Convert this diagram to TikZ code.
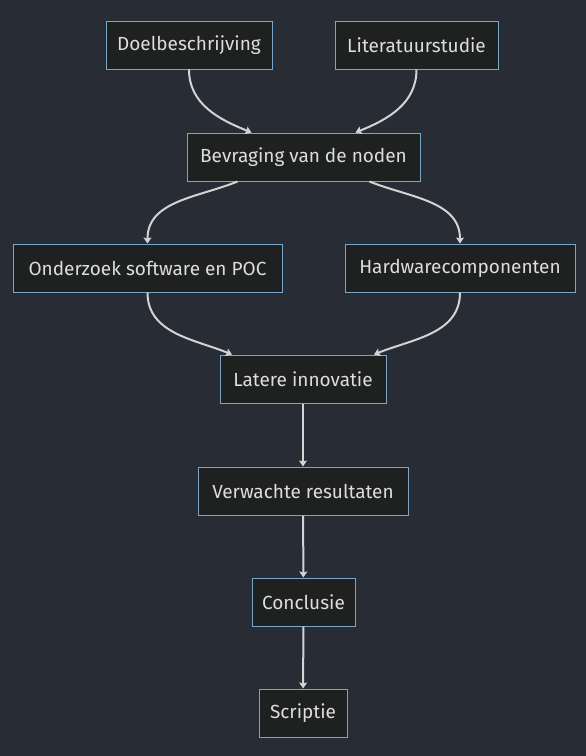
\documentclass[tikz,border=0pt]{standalone}
\usepackage{xcolor}
\usepackage{fontspec}
\setmainfont{Fira Sans}
\usepackage{tikz}
\usetikzlibrary{arrows.meta}

\definecolor{bgcol}{HTML}{282C34}
\definecolor{boxcol}{HTML}{1F2020}
\definecolor{bordercol}{HTML}{7AA6CE}
\definecolor{txtcol}{HTML}{DDDDDD}
\definecolor{linecol}{HTML}{D3D3D3}

\begin{document}
\begin{tikzpicture}[x=1pt,y=-1pt,inner sep=0pt,
  stap/.style={draw=bordercol,fill=boxcol,text=txtcol,line width=1pt,minimum height=48pt,font=\fontsize{19}{22}\selectfont},
  pijl/.style={draw=linecol,line width=2pt,-{Stealth[length=6pt,width=8pt,inset=1pt]}}]
\fill[bgcol] (0,0) rectangle (586,756);

\node[stap,minimum width=166pt] (A) at (189,45)  {Doelbeschrijving};
\node[stap,minimum width=163pt] (B) at (416.5,45) {Literatuurstudie};
\node[stap,minimum width=233pt] (C) at (303.5,157) {Bevraging van de noden};
\node[stap,minimum width=269pt] (D) at (147.5,268) {Onderzoek software en POC};
\node[stap,minimum width=230pt] (E) at (460,268) {Hardwarecomponenten};
\node[stap,minimum width=166pt] (F) at (303,379) {Latere innovatie};
\node[stap,minimum width=210pt] (G) at (303,491) {Verwachte resultaten};
\node[stap,minimum width=103pt] (H) at (303.5,602) {Conclusie};
\node[stap,minimum width=88pt]  (I) at (303,713) {Scriptie};

\path (A.south) edge [pijl,out=-90,in=158] ([xshift=-52pt]C.north);
\path (B.south) edge [pijl,out=-90,in=22] ([xshift=52pt]C.north);
\path ([xshift=-66pt]C.south) edge [pijl,out=-158,in=90] (D.north);
\path ([xshift=66pt]C.south) edge [pijl,out=-22,in=90] (E.north);
\path (D.south) edge [pijl,out=-90,in=158] ([xshift=-71pt]F.north);
\path (E.south) edge [pijl,out=-90,in=22] ([xshift=71pt]F.north);
\path (F) edge [pijl] (G);
\path (G) edge [pijl] (H);
\path (H) edge [pijl] (I);

\end{tikzpicture}
\end{document}
